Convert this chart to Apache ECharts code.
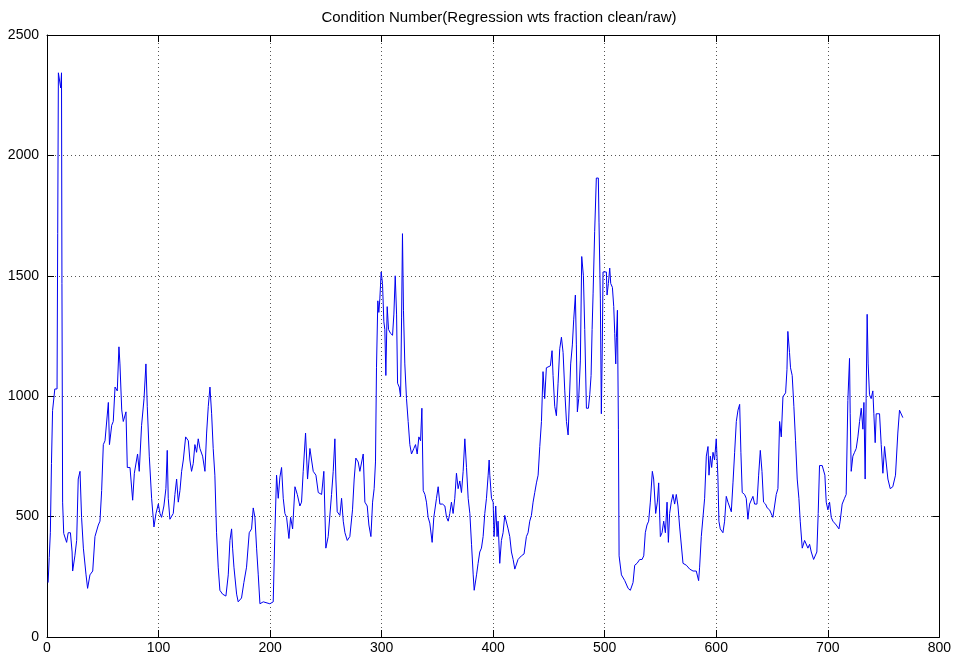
<!DOCTYPE html>
<html>
<head>
<meta charset="utf-8">
<script src="https://cdn.jsdelivr.net/npm/echarts@6/dist/echarts.min.js"></script>
<style>
html,body{margin:0;padding:0;background:#fff;}
#chart{width:954px;height:660px;}
</style>
</head>
<body>
<div id="chart"></div>
<script>
const titleText = "Condition Number(Regression wts fraction clean/raw)";
const xTicks = [0,100,200,300,400,500,600,700,800];
const yTicks = [0,500,1000,1500,2000,2500];

const xValues = [
1,2,3,4,5,7,9,9.6,10.2,11.5,12.3,13,13.4,14,15,17.6,19,21,22.5,23,25,26.6,28,29.6,31,32.6,35,36.4,38.5,41,43,46,47.5,49,50.5,52,53.5,55,56,58,59.4,61,63,64.5,65.4,67,68.4,70.8,72,74.4,76,76.8,78.3,79.8,81.2,82.7,84.8,87,88.7,89.9,91.7,93.8,95.9,97.7,99.8,101.3,102.7,104.8,106.6,107.8,108.7,110.2,113.2,114.7,116.2,117.7,119.2,120.7,122.2,124.3,126.7,128.1,129.6,131.1,132.6,134.1,135.6,137.1,139.5,141.6,143.1,144.6,146.1,147.6,149,150.5,152,153.5,155,157.4,160.4,162.5,164,165.5,166.4,167.6,170,171.4,174.4,176.5,178.9,181.3,183.4,184.9,186.4,187.9,189.4,190.9,193.9,199.8,
202.8,204.3,205.8,207.3,208.8,210.3,211.8,213.3,214.8,216.9,218.4,220.2,222.3,224.4,226.7,228.2,229.7,231.8,233.6,235.7,237.2,238.7,241.1,243.2,246.2,248.2,250,252.1,253.6,255.1,256.6,258.1,259,260.2,262.6,264.1,265.6,267.1,269.2,271.5,273.9,275.4,276.9,279,280.5,282,283.5,285,287.1,288.6,290.4,291.9,293.3,294.5,295.4,296.6,297.5,298.4,299.6,300.8,302,302.9,303.8,305,306.2,308,309.8,311,312.2,313.4,314.3,315.8,317,317.9,318.7,319.6,320.8,322.3,323.8,325.3,326.8,328.9,330.4,331.9,333.4,334.9,336.1,337.3,338.8,340.2,341.7,343.2,345.3,346.8,349.2,350.7,352.2,354.6,356.7,358.2,359.7,361.1,362.6,364.1,365.6,367.1,368.6,370.1,371.6,373.1,374.6,376.1,377.6,379.1,380.6,382.1,383,385.1,386.5,388,389.5,391,392.5,394,395.5,396.4,
397,398.5,400,400.8,402.3,403.5,404.4,405.9,407.4,408.9,410.4,411.9,413.4,414.9,416.4,417.9,419.4,422.3,425.3,427.7,429.8,431.3,432.8,434.3,435.8,437.3,438.8,440.3,441.8,443.3,444.7,446.2,447.7,449.2,451.3,452.8,453.7,455.2,456.7,458.2,459.7,461.2,462.7,464.2,465.7,467.2,468,469.5,471,472.2,473.7,474.6,475.5,476.7,478.2,479.4,480.9,482.1,483.6,485.4,486.6,487.8,488.7,489.6,491,492.5,494.3,494.9,496.1,497,497.9,498.5,500,501.5,502.1,503.3,504.5,505.4,506.9,508.1,509,509.9,510.5,511.4,512.3,512.9,515,518,521,523,525.4,526.9,529,531.4,533.5,535,536.4,537.9,539.4,540.9,542.7,543.9,545.7,547.2,548.4,549.9,551.4,552.9,554.4,555.9,557.1,558.2,559.7,561.2,562.7,564.2,565.7,567.2,568.7,570.2,573.2,576.2,579.2,582.1,584.2,585.1,586.6,
589.6,591.1,592.6,593.5,594.7,595.9,597.1,598.5,600,601.5,602.4,603.6,606,607.5,609,610.5,612,613.5,615,616.5,618,619.5,621,622.1,623.3,625.4,626.9,628.4,629.9,631.4,632.9,634.4,636.5,638,639.5,641,642.4,644.2,645.7,647.8,649.3,650.8,652.3,653.8,655.3,656.8,658.3,659.8,662.2,663.4,664.2,665.7,666.6,668.1,669.6,671.1,672.6,674.1,675.3,677.1,679.2,680.7,682.2,683.7,685.2,687.3,689,690.2,691.4,692.6,695,696.2,697.4,698.6,700.1,701.6,703.1,704.6,707.6,710,711.1,712.9,715,716.5,718,719.5,720.1,721,722.5,724,725.5,727,728.5,730,731.5,732.4,733.5,734.4,735.3,736.2,737.4,738.9,740.4,741.3,742.5,743.4,744.9,746.4,747.9,749.4,750.9,752.4,753.9,756,758.3,760.7,762.8,764.3,765.8,767.3
];

const yValues = [
226,330,433,720,940,1030,1030,1675,2343,2343,2280,2343,1468,560,430,393,433,433,353,274,337,401,656,688,497,369,258,202,258,274,417,465,481,608,799,815,807,974,799,879,895,1038,1022,1205,1134,943,895,935,704,704,704,568,680,672,760,688,879,990,1134,958,751,576,457,513,552,513,497,544,616,775,576,489,513,592,656,560,608,688,735,831,815,735,688,720,799,767,823,783,751,688,847,958,1038,927,783,672,433,290,194,178,170,258,401,449,369,290,178,146,162,226,290,433,449,536,497,369,258,138,146,138,
146,433,672,576,664,704,576,513,497,409,497,449,624,592,544,560,688,847,656,783,735,688,672,600,592,688,369,417,417,592,688,823,656,520,505,576,481,433,401,417,528,656,743,727,688,688,760,560,544,465,417,560,616,727,1118,1396,1348,1404,1516,1468,1309,1277,1086,1372,1277,1261,1253,1341,1500,1341,1054,1038,998,1325,1675,1357,1134,990,895,799,760,783,799,760,831,815,950,608,592,560,497,473,393,497,576,624,552,552,544,497,481,513,560,513,576,680,616,648,600,688,823,704,576,513,385,258,194,258,306,353,369,417,513,576,672,735,
672,576,560,417,544,417,481,306,401,433,505,513,449,417,353,322,282,322,337,345,417,433,481,505,560,600,640,672,791,895,1102,990,1118,1126,1126,1189,1086,958,919,1054,1197,1245,1181,1022,895,839,839,1134,1213,1317,1420,1213,935,990,1150,1580,1500,1277,950,950,1006,1086,1277,1428,1683,1906,1906,1723,1404,927,1229,1516,1516,1516,1420,1468,1532,1468,1452,1372,1261,1134,1245,1357,863,337,258,234,202,194,226,298,306,322,322,337,433,465,481,560,688,656,513,560,640,417,433,481,433,560,393,513,560,592,552,592,544,457,465,306,298,282,274,274,234,290,417,
576,751,791,672,751,704,767,735,823,664,481,449,433,481,584,560,552,520,640,767,895,942,966,767,600,592,576,489,552,560,584,552,552,672,775,688,560,552,536,528,528,497,544,592,616,895,831,998,1014,1110,1269,1181,1118,1086,958,815,656,576,481,369,401,393,369,385,353,322,330,353,513,712,712,712,672,560,528,560,497,481,465,449,481,552,576,592,982,1157,927,688,751,767,783,831,895,950,863,974,656,990,1340,1134,1006,990,1022,927,807,927,919,927,799,680,791,783,656,616,624,672,847,942,935,911
];

const seriesData = xValues.map((x, i) => [x, yValues[i]]);

const chart = echarts.init(document.getElementById('chart'), null, {renderer: 'canvas'});
const fontFamily = "'Liberation Sans', Arial, sans-serif";
const gridLine = {show: true, lineStyle: {color: '#555', type: [1, 3], width: 1}};
const axisLine = {show: true, onZero: false, lineStyle: {color: '#000', width: 1}};
const tick = {show: true, inside: true, length: 7, lineStyle: {color: '#000'}};

chart.setOption({
  animation: false,
  backgroundColor: '#fff',
  title: {
    text: titleText,
    left: 494,
    top: 5,
    textAlign: 'center',
    textStyle: {fontFamily: fontFamily, fontSize: 15, fontWeight: 'normal', color: '#000'}
  },
  grid: {left: 47, right: 14, top: 35, bottom: 23, containLabel: false},
  xAxis: [
    {type: 'value', min: 0, max: 800, interval: 100, position: 'bottom',
     axisLine: axisLine, axisTick: tick, splitLine: gridLine,
     axisLabel: {color: '#000', fontFamily: fontFamily, fontSize: 14, margin: 4,
       formatter: v => xTicks.includes(v) ? String(v) : ''}},
    {type: 'value', min: 0, max: 800, interval: 100, position: 'top',
     axisLine: axisLine, axisTick: tick, splitLine: {show: false}, axisLabel: {show: false}}
  ],
  yAxis: [
    {type: 'value', min: 0, max: 2500, interval: 500, position: 'left',
     axisLine: axisLine, axisTick: tick, splitLine: gridLine,
     axisLabel: {color: '#000', fontFamily: fontFamily, fontSize: 14, margin: 8,
       formatter: v => yTicks.includes(v) ? String(v) : ''}},
    {type: 'value', min: 0, max: 2500, interval: 500, position: 'right',
     axisLine: axisLine, axisTick: tick, splitLine: {show: false}, axisLabel: {show: false}}
  ],
  series: [{
    type: 'line',
    data: seriesData,
    xAxisIndex: 0,
    yAxisIndex: 0,
    showSymbol: false,
    symbol: 'none',
    lineStyle: {color: '#0000f0', width: 1},
    silent: true
  }]
});
</script>
</body>
</html>
